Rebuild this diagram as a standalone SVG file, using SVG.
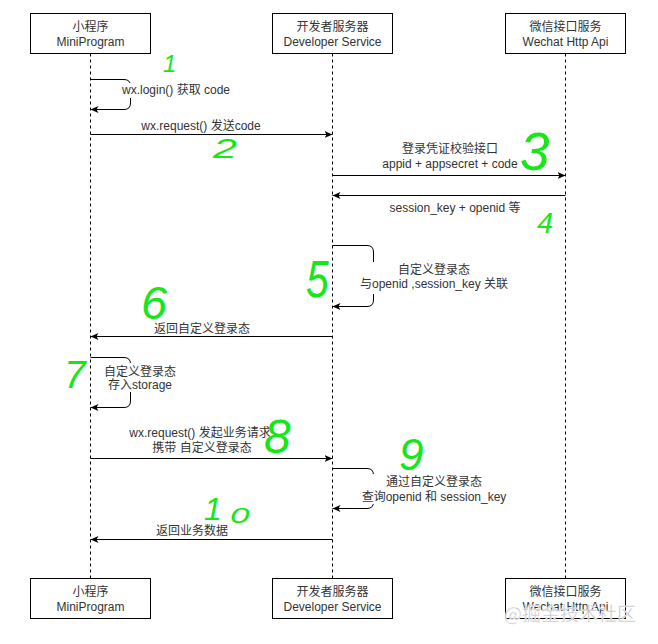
<svg xmlns="http://www.w3.org/2000/svg" width="658" height="644" viewBox="0 0 658 644">
<style>
.box{fill:#fff;stroke:#000;stroke-width:1}
.life{stroke:#000;stroke-width:1;stroke-dasharray:3 3;fill:none}
.msg{stroke:#000;stroke-width:1;fill:none;marker-end:url(#arr)}
.t{font-family:"Liberation Sans","Noto Sans CJK SC",sans-serif;font-size:12px;fill:#333;text-anchor:middle}
.ts{text-anchor:start}
.bg{fill:#fff}
.num{font-family:"Liberation Sans",sans-serif;font-style:italic;fill:#17e617}
.wm{font-family:"Noto Sans CJK SC","Liberation Sans",sans-serif;font-size:19px;fill:#c4c4c4;stroke:#fff;stroke-width:0.4}
</style>
<defs>
<marker id="arr" markerWidth="10" markerHeight="8" refX="8" refY="4" orient="auto" markerUnits="userSpaceOnUse">
<path d="M0,0.5 L8,4 L0,7.5 L2,4 z" fill="#000"/>
</marker>
</defs>
<rect width="658" height="644" fill="#fff"/>
<g id="mini">
<line class="life" x1="90.5" y1="53.5" x2="90.5" y2="578.5"/>
<rect class="box" x="30.5" y="13.5" width="120" height="40"/>
<text class="t" x="90.5" y="31">小程序</text>
<text class="t" x="90.5" y="46">MiniProgram</text>
<rect class="box" x="30.5" y="578.5" width="120" height="40"/>
<text class="t" x="90.5" y="596">小程序</text>
<text class="t" x="90.5" y="611">MiniProgram</text>
</g>
<g id="dev">
<line class="life" x1="332.5" y1="53.5" x2="332.5" y2="578.5"/>
<rect class="box" x="272.5" y="13.5" width="120" height="40"/>
<text class="t" x="332.5" y="31">开发者服务器</text>
<text class="t" x="332.5" y="46">Developer Service</text>
<rect class="box" x="272.5" y="578.5" width="120" height="40"/>
<text class="t" x="332.5" y="596">开发者服务器</text>
<text class="t" x="332.5" y="611">Developer Service</text>
</g>
<g id="wechat">
<line class="life" x1="565.5" y1="53.5" x2="565.5" y2="578.5"/>
<rect class="box" x="505.5" y="13.5" width="120" height="40"/>
<text class="t" x="565.5" y="31">微信接口服务</text>
<text class="t" x="565.5" y="46">Wechat Http Api</text>
<rect class="box" x="505.5" y="578.5" width="120" height="40"/>
<text class="t" x="565.5" y="596">微信接口服务</text>
<text class="t" x="565.5" y="611">Wechat Http Api</text>
</g>
<g id="connectors">
<path class="msg" d="M90.5,79.5 H124 Q130.5,79.5 130.5,86 V103 Q130.5,109.5 124,109.5 H90.5"/>
<rect class="bg" x="121" y="83" width="111" height="15"/>
<text class="t ts" x="122" y="94">wx.login() 获取 code</text>

<path class="msg" d="M90.5,134.5 H332.5"/>
<text class="t" x="201" y="130">wx.request() 发送code</text>

<path class="msg" d="M332.5,175.5 H565.5"/>
<text class="t" x="450" y="153">登录凭证校验接口</text>
<text class="t" x="450" y="168">appid + appsecret + code</text>

<path class="msg" d="M565.5,195.5 H332.5"/>
<text class="t" x="455" y="212">session_key + openid 等</text>

<path class="msg" d="M332.5,245.5 H367 Q373.5,245.5 373.5,252 V300 Q373.5,306.5 367,306.5 H332.5"/>
<rect class="bg" x="358" y="262" width="152" height="32"/>
<text class="t" x="434" y="274">自定义登录态</text>
<text class="t" x="434" y="288">与openid ,session_key 关联</text>

<path class="msg" d="M332.5,336.5 H90.5"/>
<text class="t" x="202" y="333">返回自定义登录态</text>

<path class="msg" d="M90.5,357.5 H124 Q130.5,357.5 130.5,364 V401 Q130.5,407.5 124,407.5 H90.5"/>
<rect class="bg" x="103" y="363" width="74" height="29"/>
<text class="t" x="140" y="376">自定义登录态</text>
<text class="t" x="140" y="389">存入storage</text>

<path class="msg" d="M90.5,458.5 H332.5"/>
<text class="t" x="200" y="437">wx.request() 发起业务请求</text>
<text class="t" x="202" y="452">携带 自定义登录态</text>

<path class="msg" d="M332.5,468.5 H367 Q373.5,468.5 373.5,475 V502 Q373.5,508.5 367,508.5 H332.5"/>
<rect class="bg" x="359" y="474" width="150" height="30"/>
<text class="t" x="434" y="486">通过自定义登录态</text>
<text class="t" x="434" y="501">查询openid 和 session_key</text>

<path class="msg" d="M332.5,539.5 H90.5"/>
<text class="t" x="192" y="535">返回业务数据</text>
</g>
<g id="annotations">
<text class="num" font-size="24" x="163" y="72">1</text>
<text class="num" font-size="27" transform="translate(213,158) scale(1.6,1)">2</text>
<text class="num" font-size="53" x="520" y="170">3</text>
<text class="num" font-size="29" x="537" y="233">4</text>
<text class="num" font-size="51" transform="translate(306,297) scale(0.8,1)">5</text>
<text class="num" font-size="47" x="141" y="319">6</text>
<text class="num" font-size="39" x="64" y="388">7</text>
<text class="num" font-size="48" x="264" y="453">8</text>
<text class="num" font-size="44" x="399" y="470">9</text>
<text class="num" font-size="32" x="204" y="520">1</text>
<text class="num" font-size="22" transform="translate(230,523) scale(1.6,1)">0</text>
</g>
<text class="wm" x="504" y="621">@掘金技术社区</text>
</svg>
